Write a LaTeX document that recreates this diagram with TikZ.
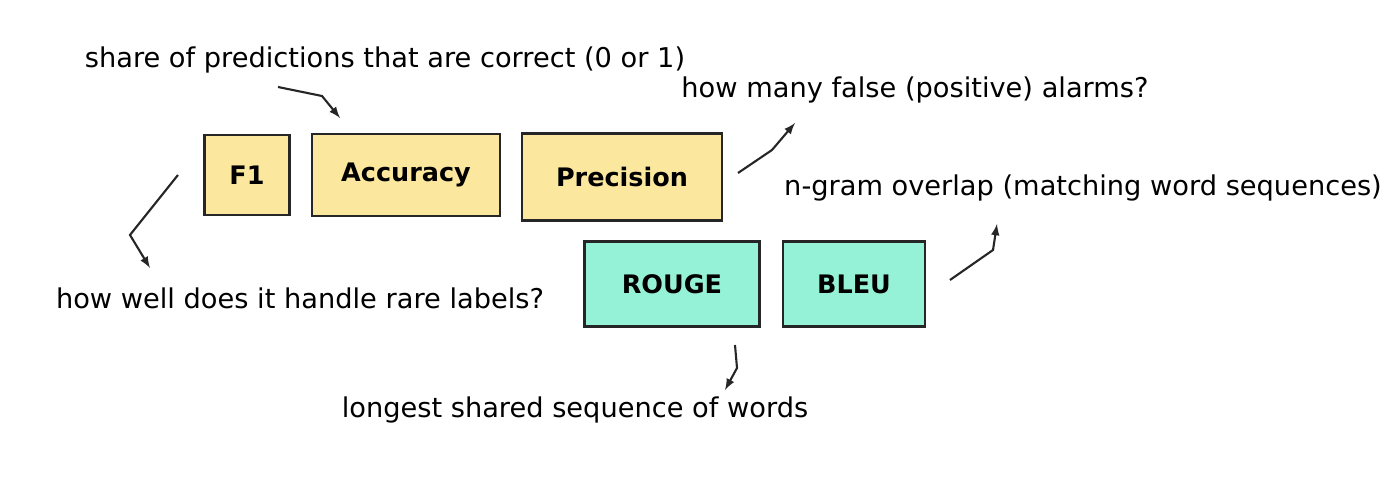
\documentclass[tikz,border=0pt]{standalone}
\usepackage{fontspec}
\setmainfont{DejaVu Sans}
\usepackage{tikz}
\usetikzlibrary{calc}
\usepackage{xcolor}
\definecolor{ylw}{HTML}{FBE89E}
\definecolor{mint}{HTML}{96F2D7}

\begin{document}
\begin{tikzpicture}[x=0.02cm, y=-0.02cm]
    \tikzset{
        metric/.style={draw=black!85, line width=1.3pt, font=\fontsize{14.5}{17}\selectfont\bfseries, anchor=center},
        note/.style={font=\fontsize{15.5}{18}\selectfont, anchor=center},
        arr/.style={draw=black!85, line width=1.2pt, -latex}
    }
    \useasboundingbox (0,0) rectangle (1400,482);

    \node[metric, fill=ylw, minimum width=1.7cm, minimum height=1.6cm] (f1) at (247, 175) {F1};
    \node[metric, fill=ylw, minimum width=3.76cm, minimum height=1.64cm] (acc) at (406, 175) {Accuracy};
    \node[metric, fill=ylw, minimum width=4cm, minimum height=1.74cm] (prec) at (622, 177) {Precision};
    \node[metric, fill=mint, minimum width=3.5cm, minimum height=1.7cm] (rouge) at (672, 284) {ROUGE};
    \node[metric, fill=mint, minimum width=2.84cm, minimum height=1.7cm] (bleu) at (854, 284) {BLEU};

    \node[note] (share) at (385, 60) {share of predictions that are correct (0 or 1)};
    \node[note] (false) at (915, 90) {how many false (positive) alarms?};
    \node[note] (ngram) at (1083, 188) {n-gram overlap (matching word sequences)};
    \node[note] (rare) at (300, 298) {how well does it handle rare labels?};
    \node[note] (lcs) at (575, 410) {longest shared sequence of words};

    \coordinate (s1) at (278, 87);
    \coordinate (s2) at (340, 118);
    \coordinate (p1) at (738, 173);
    \coordinate (p2) at (795, 123);
    \coordinate (f1a) at (178, 175);
    \coordinate (f1b) at (150, 268);
    \coordinate (b1) at (950, 280);
    \coordinate (b2) at (997, 224);
    \coordinate (r1) at (735, 345);
    \coordinate (r2) at (725, 390);

    \draw[arr] (s1) -- (322, 96) -- (s2);
    \draw[arr] (p1) -- (772, 150) -- (p2);
    \draw[arr] (f1a) -- (130, 235) -- (f1b);
    \draw[arr] (b1) -- (993, 250) -- (b2);
    \draw[arr] (r1) -- (737, 368) -- (r2);
\end{tikzpicture}
\end{document}
